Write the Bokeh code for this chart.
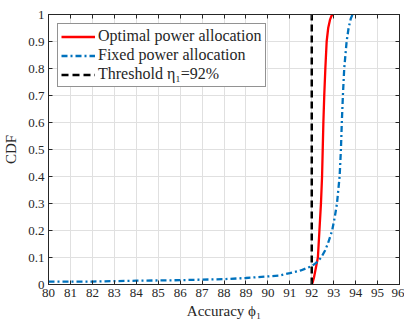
from bokeh.plotting import figure
from bokeh.models import Range1d, FixedTicker, LinearAxis, Legend, LegendItem
from bokeh.embed import file_html
from bokeh.resources import INLINE

# ---- data ----
red_x = [92.0, 92.05, 92.1, 92.16, 92.22, 92.28, 92.35, 92.42, 92.47, 92.5, 92.53,
         92.57, 92.62, 92.68, 92.75, 92.83, 92.9, 92.97]
red_y = [0.0, 0.01, 0.025, 0.05, 0.075, 0.1, 0.2, 0.3, 0.4, 0.5, 0.6,
         0.7, 0.8, 0.9, 0.95, 0.98, 0.995, 1.0]

blue_x = [80, 82, 84, 86, 87, 88, 89, 90, 90.5, 91, 91.5, 92, 92.2, 92.43, 92.6,
          92.73, 92.85, 92.93, 93.05, 93.15, 93.27, 93.33, 93.37, 93.42, 93.48,
          93.59, 93.68, 93.78, 93.86]
blue_y = [0.011, 0.011, 0.014, 0.016, 0.018, 0.02, 0.024, 0.03, 0.033, 0.042, 0.052,
          0.068, 0.08, 0.1, 0.125, 0.15, 0.18, 0.2, 0.25, 0.3, 0.4, 0.5, 0.6, 0.7,
          0.8, 0.9, 0.95, 0.985, 1.0]

thr_x = [92, 92]
thr_y = [0, 1]

x_ticks = list(range(80, 97))
y_ticks = [0, 0.1, 0.2, 0.3, 0.4, 0.5, 0.6, 0.7, 0.8, 0.9, 1]
y_tick_labels = ["0", "0.1", "0.2", "0.3", "0.4", "0.5", "0.6", "0.7", "0.8", "0.9", "1"]

labels = ["Optimal power allocation", "Fixed power allocation", "Threshold η₁=92%"]

FONT = "Liberation Serif"

p = figure(width=404, height=325, output_backend="svg", toolbar_location=None,
           x_range=Range1d(80, 96), y_range=Range1d(0, 1),
           min_border_left=46, min_border_right=5, min_border_top=14, min_border_bottom=41)
p.background_fill_color = "white"
p.border_fill_color = "white"
p.outline_line_color = "#262626"
p.outline_line_width = 1

r1 = p.line(red_x, red_y, line_color="#ff0000", line_width=2.3)
r2 = p.line(blue_x, blue_y, line_color="#0072BD", line_width=2.3, line_dash="6 3 2 3")
r3 = p.line(thr_x, thr_y, line_color="black", line_width=2.5, line_dash="7 4")

for ax in p.xaxis:
    ax.ticker = FixedTicker(ticks=x_ticks)
for ax in p.yaxis:
    ax.ticker = FixedTicker(ticks=y_ticks)
    ax.major_label_overrides = {t: l for t, l in zip(y_ticks, y_tick_labels)}

p.xaxis.axis_label = "Accuracy ϕ₁"
p.yaxis.axis_label = "CDF"

for ax in [p.xaxis[0], p.yaxis[0]]:
    ax.major_tick_in = 4
    ax.major_tick_out = 0
    ax.minor_tick_line_color = None
    ax.axis_line_color = "#262626"
    ax.major_tick_line_color = "#262626"
    ax.major_label_text_font = FONT
    ax.major_label_text_font_size = "13px"
    ax.major_label_text_color = "#262626"
    ax.axis_label_text_font = FONT
    ax.axis_label_text_font_size = "15px"
    ax.axis_label_text_font_style = "normal"
    ax.axis_label_text_color = "#262626"
p.xaxis.major_label_standoff = 4
p.yaxis.major_label_standoff = 4
p.xaxis.axis_label_standoff = 3
p.yaxis.axis_label_standoff = 6

# top and right tick-only axes (no labels)
def tick_axis(ticks):
    a = LinearAxis(ticker=FixedTicker(ticks=ticks), major_tick_in=4, major_tick_out=0,
                   minor_tick_line_color=None, axis_line_color="#262626",
                   major_tick_line_color="#262626")
    a.major_label_text_color = None
    a.major_label_text_font_size = "1px"
    a.major_label_standoff = 0
    return a

p.add_layout(tick_axis(x_ticks), "above")
p.add_layout(tick_axis(y_ticks), "right")

p.xgrid.ticker = FixedTicker(ticks=x_ticks)
p.ygrid.ticker = FixedTicker(ticks=y_ticks)
p.grid.grid_line_color = "#e0e0e0"
p.grid.grid_line_width = 1

legend = Legend(items=[LegendItem(label=labels[0], renderers=[r1]),
                       LegendItem(label=labels[1], renderers=[r2]),
                       LegendItem(label=labels[2], renderers=[r3])],
                location="top_left")
legend.margin = 9
legend.padding = 3
legend.spacing = 1
legend.glyph_width = 34
legend.glyph_height = 17
legend.label_height = 17
legend.label_standoff = 3
legend.label_text_font = FONT
legend.label_text_font_size = "16px"
legend.label_text_color = "#262626"
legend.border_line_color = "#262626"
legend.border_line_width = 1
legend.background_fill_alpha = 1
p.add_layout(legend, "center")

open("out.html", "w").write(file_html(p, INLINE))
